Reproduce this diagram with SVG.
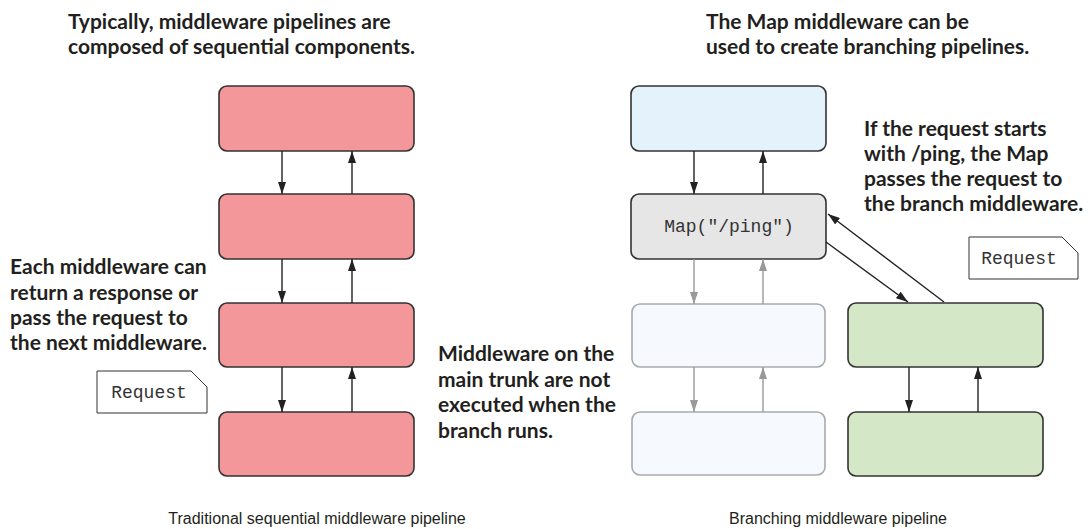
<svg xmlns="http://www.w3.org/2000/svg" width="1091" height="529" viewBox="0 0 1091 529">
<defs>
<style>
.bold{font-family:Lato,"Liberation Sans",sans-serif;font-weight:bold;font-size:21px;fill:#231f20}
.cap{font-family:"Liberation Sans",Arial,sans-serif;font-size:16px;fill:#231f20}
.mono{font-family:"Liberation Mono","Courier New",monospace;font-size:18px;fill:#333}
.pink{fill:#f4979b;stroke:#333;stroke-width:1.6}
.blue{fill:#e4f2fb;stroke:#333;stroke-width:1.6}
.grey{fill:#e6e6e6;stroke:#333;stroke-width:1.6}
.fade{fill:#f6fafe;stroke:#aaa;stroke-width:1.6}
.green{fill:#d4e7c6;stroke:#333;stroke-width:1.6}
.note{fill:#fff;stroke:#333;stroke-width:1}
.a{stroke:#222;stroke-width:1.4;fill:none;marker-end:url(#ah)}
.af{stroke:#999;stroke-width:1.4;fill:none;marker-end:url(#ahf)}
</style>
<marker id="ah" viewBox="0 0 12 8" refX="12" refY="4" markerWidth="12" markerHeight="8" markerUnits="userSpaceOnUse" orient="auto"><path d="M0,0 L12,4 L0,8 Z" fill="#222"/></marker>
<marker id="ahf" viewBox="0 0 12 8" refX="12" refY="4" markerWidth="12" markerHeight="8" markerUnits="userSpaceOnUse" orient="auto"><path d="M0,0 L12,4 L0,8 Z" fill="#999"/></marker>
</defs>

<g id="texts">
<text class="bold" x="68" y="29">Typically, middleware pipelines are</text>
<text class="bold" x="68" y="54">composed of sequential components.</text>
<text class="bold" x="706" y="29">The Map middleware can be</text>
<text class="bold" x="706" y="54">used to create branching pipelines.</text>
<text class="bold" x="10" y="274">Each middleware can</text>
<text class="bold" x="10" y="300">return a response or</text>
<text class="bold" x="10" y="325">pass the request to</text>
<text class="bold" x="10" y="350">the next middleware.</text>
<text class="bold" x="438" y="361">Middleware on the</text>
<text class="bold" x="438" y="387">main trunk are not</text>
<text class="bold" x="438" y="412">executed when the</text>
<text class="bold" x="438" y="438">branch runs.</text>
<text class="bold" x="864" y="136">If the request starts</text>
<text class="bold" x="864" y="161">with /ping, the Map</text>
<text class="bold" x="864" y="186">passes the request to</text>
<text class="bold" x="864" y="211">the branch middleware.</text>
<text class="cap" x="317" y="524" text-anchor="middle">Traditional sequential middleware pipeline</text>
<text class="cap" x="838" y="524" text-anchor="middle">Branching middleware pipeline</text>
</g>

<g id="left-1"><rect class="pink" x="219" y="86" width="195" height="65" rx="8"/></g>
<g id="left-2"><rect class="pink" x="219" y="194" width="195" height="65" rx="8"/></g>
<g id="left-3"><rect class="pink" x="219" y="303" width="195" height="64" rx="8"/></g>
<g id="left-4"><rect class="pink" x="219" y="412" width="195" height="64" rx="8"/></g>

<g id="right-top"><rect class="blue" x="631" y="86" width="195" height="65" rx="8"/></g>
<g id="map"><rect class="grey" x="631" y="194" width="195" height="65" rx="8"/>
<text class="mono" x="729" y="232" text-anchor="middle">Map("/ping")</text></g>
<g id="trunk-1"><rect class="fade" x="632" y="304" width="193" height="63" rx="8"/></g>
<g id="trunk-2"><rect class="fade" x="632" y="412" width="193" height="63" rx="8"/></g>
<g id="branch-1"><rect class="green" x="848" y="303" width="195" height="64" rx="8"/></g>
<g id="branch-2"><rect class="green" x="848" y="412" width="195" height="64" rx="8"/></g>

<g id="note-left"><path class="note" d="M97,371 H191 L207,387 V413 H97 Z"/>
<text class="mono" x="149" y="398" text-anchor="middle">Request</text></g>
<g id="note-right"><path class="note" d="M969,237 H1062 L1078,253 V279 H969 Z"/>
<text class="mono" x="1019" y="264" text-anchor="middle">Request</text></g>

<g id="connectors">
<line class="a" x1="282" y1="151" x2="282" y2="194"/>
<line class="a" x1="352" y1="194" x2="352" y2="151"/>
<line class="a" x1="282" y1="259" x2="282" y2="303"/>
<line class="a" x1="352" y1="303" x2="352" y2="259"/>
<line class="a" x1="282" y1="367" x2="282" y2="412"/>
<line class="a" x1="352" y1="412" x2="352" y2="367"/>
<line class="a" x1="694" y1="151" x2="694" y2="194"/>
<line class="a" x1="763" y1="194" x2="763" y2="151"/>
<line class="af" x1="694" y1="259" x2="694" y2="304"/>
<line class="af" x1="763" y1="304" x2="763" y2="259"/>
<line class="af" x1="694" y1="367" x2="694" y2="412"/>
<line class="af" x1="763" y1="412" x2="763" y2="367"/>
<line class="a" x1="826" y1="242" x2="908" y2="302"/>
<line class="a" x1="944" y1="302" x2="828" y2="214"/>
<line class="a" x1="909" y1="367" x2="909" y2="412"/>
<line class="a" x1="978" y1="412" x2="978" y2="367"/>
</g>
</svg>
